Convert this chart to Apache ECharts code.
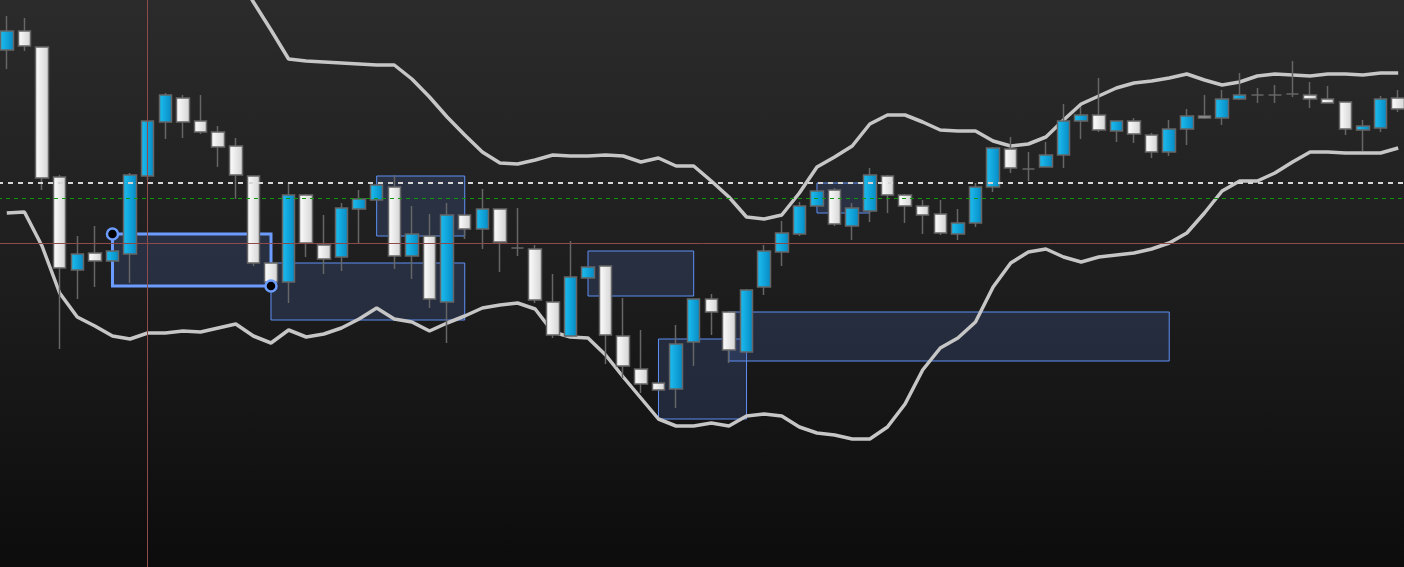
<!DOCTYPE html>
<html>
<head>
<meta charset="utf-8">
<style>
	html, body { margin: 0; padding: 0; overflow: hidden; width: 1404px; height: 567px; background: #0c0c0c; }
	#wrap {
		position: relative;
		width: 1404px;
		height: 567px;
		overflow: hidden;
		background: linear-gradient(to bottom, #2b2b2b 0%, #1d1d1d 50%, #0c0c0c 100%);
	}
	/* candle slots run a little past both edges */
	#chart {
		position: absolute;
		left: -2px;
		top: 0;
		width: 1409px;
		height: 567px;
	}
</style>
<script src="https://cdn.jsdelivr.net/npm/echarts@6/dist/echarts.min.js"></script>
</head>
<body>
<div id="wrap"><div id="chart"></div></div>
<script>
// candles: [open, close, low, high]
const candles = [
	[51.7, 53.6, 49.8, 55.1], [53.6, 52.1, 51.6, 54.9], [52.0, 38.9, 37.7, 52.0], [39.0, 29.9, 21.8, 39.2],
	[29.7, 31.3, 26.8, 33.1], [31.4, 30.6, 28.0, 34.1], [30.6, 31.6, 30.6, 31.6], [31.3, 39.2, 28.4, 39.4],
	[39.1, 44.6, 38.7, 44.6], [44.5, 47.2, 42.8, 47.4], [46.9, 44.5, 42.9, 47.2], [44.6, 43.5, 43.3, 47.2],
	[43.5, 42.0, 40.0, 44.1], [42.1, 39.2, 36.8, 42.9], [39.1, 30.4, 30.1, 39.1], [30.4, 28.5, 28.5, 30.4],
	[28.5, 37.2, 26.4, 38.4], [37.2, 32.4, 31.0, 37.3], [32.2, 30.8, 29.3, 35.2], [31.0, 35.9, 29.6, 36.4],
	[35.8, 36.8, 32.4, 37.7], [36.7, 38.2, 36.7, 38.2], [38.0, 31.1, 29.8, 39.2], [31.1, 33.3, 28.8, 36.1],
	[33.1, 26.8, 25.9, 35.3], [26.5, 35.2, 22.4, 36.4], [35.2, 33.8, 32.8, 35.2], [33.8, 35.8, 31.8, 37.8],
	[35.8, 32.5, 29.5, 35.8], [31.9, 31.9, 31.1, 35.9], [31.8, 26.7, 26.4, 32.2], [26.5, 23.2, 22.9, 29.3],
	[23.1, 29.0, 23.1, 32.6], [28.9, 30.0, 28.9, 30.0], [30.1, 23.2, 20.3, 30.1], [23.1, 20.1, 18.9, 26.9],
	[19.8, 18.3, 17.4, 23.7], [18.4, 17.7, 17.7, 18.4], [17.8, 22.3, 15.9, 24.2], [22.5, 26.8, 20.1, 26.8],
	[26.8, 25.5, 23.2, 27.3], [25.5, 21.7, 20.4, 25.6], [21.5, 27.7, 21.5, 27.8], [28.0, 31.6, 27.2, 32.2],
	[31.5, 33.4, 30.1, 34.6], [33.3, 36.1, 33.1, 36.5], [36.1, 37.6, 36.1, 37.6], [37.7, 34.3, 34.1, 37.9],
	[34.1, 35.9, 32.7, 36.4], [35.6, 39.2, 34.5, 39.9], [39.1, 37.2, 35.4, 39.2], [37.2, 36.1, 34.4, 37.3],
	[36.1, 35.2, 33.3, 36.7], [35.3, 33.4, 33.2, 36.7], [33.3, 34.4, 32.7, 35.8], [34.4, 38.0, 34.0, 38.4],
	[38.0, 41.9, 37.5, 42.0], [41.8, 39.9, 39.4, 43.0], [39.8, 39.8, 38.6, 41.5], [40.0, 41.2, 40.0, 42.5],
	[41.2, 44.6, 39.9, 46.3], [44.6, 45.2, 42.8, 46.0], [45.2, 43.7, 43.5, 48.9], [43.6, 44.6, 42.5, 44.6],
	[44.6, 43.3, 42.4, 44.9], [43.2, 41.5, 40.9, 43.4], [41.5, 43.8, 41.1, 44.7], [43.8, 45.1, 42.2, 45.8],
	[45.1, 44.9, 44.8, 47.2], [44.9, 46.8, 44.2, 47.7], [46.8, 47.2, 46.7, 49.4], [47.2, 47.2, 46.4, 47.9],
	[47.2, 47.2, 46.4, 48.2], [47.3, 47.3, 47.0, 50.6], [47.2, 46.8, 45.9, 48.5], [46.8, 46.4, 46.4, 48.1],
	[46.5, 43.8, 43.2, 46.5], [43.7, 44.1, 41.6, 44.7], [43.9, 46.8, 43.5, 47.1], [46.9, 45.8, 45.5, 47.7]
]

// bollinger bands
const upperBand = [
	58.7, 59.2, 59.7, 60.2, 60.5, 60.7, 60.9, 60.9, 61.2, 61.5, 61.7, 61.7, 61.2, 59.5, 56.5, 53.7,
	50.8, 50.6, 50.5, 50.4, 50.3, 50.2, 50.2, 48.8, 47.0, 45.0, 43.2, 41.5, 40.4, 40.3, 40.7, 41.2,
	41.1, 41.1, 41.2, 41.1, 40.5, 40.9, 40.1, 40.1, 38.6, 37.0, 35.0, 34.8, 35.2, 37.4, 40.0, 41.0,
	42.1, 44.3, 45.2, 45.2, 44.5, 43.7, 43.6, 43.6, 42.6, 42.1, 42.3, 43.0, 44.7, 46.3, 47.1, 47.9,
	48.4, 48.6, 48.9, 49.3, 48.7, 48.2, 48.5, 49.1, 49.3, 49.2, 49.1, 49.3, 49.3, 49.2, 49.4, 49.4
]
const lowerBand = [
	35.4, 35.5, 32.1, 27.4, 25.0, 24.1, 23.1, 22.8, 23.4, 23.4, 23.6, 23.5, 23.9, 24.3, 23.1, 22.4,
	23.7, 23.0, 23.3, 23.9, 24.8, 25.9, 24.8, 24.5, 23.6, 24.4, 25.1, 25.9, 26.2, 26.4, 25.8, 23.5,
	23.0, 22.9, 21.2, 19.0, 16.9, 14.8, 14.1, 14.1, 14.4, 14.1, 15.1, 15.3, 15.1, 14.0, 13.4, 13.2,
	12.8, 12.8, 14.0, 16.3, 19.7, 21.9, 22.9, 24.5, 28.0, 30.4, 31.5, 31.8, 31.0, 30.5, 31.0, 31.2,
	31.4, 31.8, 32.4, 33.4, 35.4, 37.6, 38.6, 38.6, 39.4, 40.5, 41.5, 41.5, 41.4, 41.4, 41.4, 41.9
]

// zones: [start candle, end candle, top price, bottom price]
const zones = [
	[6, 15, 33.3, 28.1],
	[15, 26, 30.4, 24.7],
	[21, 26, 39.1, 33.1],
	[33, 39, 31.6, 27.1],
	[37, 42, 22.8, 14.8],
	[41, 66, 25.5, 20.6],
	[46, 49, 38.4, 35.4]
]
const selectedZone = 0

// price levels: white dashed, green dashed
const levelWhite = 38.4
const levelGreen = 36.9
// crosshair: candle index, price
const crosshair = [8, 32.4]

const categories = candles.map((c, i) => String(i + 1))

const chartInstance = echarts.init(document.getElementById('chart'))

function initChart() {
	const sel = zones[selectedZone]
	const option = {
		animation: false,
		backgroundColor: 'transparent',
		grid: { left: 0, right: 0, top: 0, bottom: 0 },
		xAxis: {
			type: 'category',
			data: categories,
			boundaryGap: true,
			show: false
		},
		yAxis: {
			type: 'value',
			min: 0,
			max: 56.7,
			show: false,
			splitLine: { show: false }
		},
		series: [
			// crosshair (behind everything)
			{
				type: 'line',
				data: [],
				z: 1,
				silent: true,
				markLine: {
					symbol: 'none',
					silent: true,
					label: { show: false },
					lineStyle: { color: '#8f4a4a', width: 1, type: 'solid' },
					data: [{ xAxis: categories[crosshair[0]] }, { yAxis: crosshair[1] }]
				}
			},
			// zones
			{
				type: 'custom',
				z: 1,
				silent: true,
				clip: false,
				data: zones.map((d, i) => d.concat(i === selectedZone ? 1 : 0)),
				encode: { x: [0, 1], y: [2, 3] },
				renderItem: function (params, api) {
					const p0 = api.coord([api.value(0), api.value(2)])
					const p1 = api.coord([api.value(1), api.value(3)])
					const isSel = api.value(4) === 1
					return {
						type: 'rect',
						shape: { x: p0[0], y: p0[1], width: p1[0] - p0[0], height: p1[1] - p0[1] },
						style: {
							fill: 'rgba(70,100,170,0.25)',
							stroke: isSel ? '#6c9cff' : '#5f90f5',
							lineWidth: isSel ? 3 : 1
						}
					}
				}
			},
			// bands
			{
				type: 'line',
				data: upperBand,
				z: 2,
				symbol: 'none',
				silent: true,
				lineStyle: { color: '#c6c6c6', width: 3.5 }
			},
			{
				type: 'line',
				data: lowerBand,
				z: 2,
				symbol: 'none',
				silent: true,
				lineStyle: { color: '#c6c6c6', width: 3.5 }
			},
			// candles
			{
				type: 'candlestick',
				data: candles,
				z: 3,
				barWidth: 13,
				itemStyle: {
					color: new echarts.graphic.LinearGradient(0, 0, 1, 0, [
						{ offset: 0, color: '#1ec0f2' },
						{ offset: 1, color: '#0588c2' }
					]),
					color0: new echarts.graphic.LinearGradient(0, 0, 1, 0, [
						{ offset: 0, color: '#ffffff' },
						{ offset: 1, color: '#d2d2d2' }
					]),
					borderColor: '#666666',
					borderColor0: '#666666',
					borderColorDoji: '#666666',
					borderWidth: 1.5
				}
			},
			// price levels on top
			{
				type: 'line',
				data: [],
				z: 5,
				silent: true,
				markLine: {
					symbol: 'none',
					silent: true,
					label: { show: false },
					data: [
						{ yAxis: levelWhite, lineStyle: { color: '#d6d6d6', width: 2, type: [5, 5] } },
						{ yAxis: levelGreen, lineStyle: { color: '#0a9a0a', width: 1.2, type: [4, 4] } }
					]
				}
			},
			// handles of selected zone
			{
				type: 'scatter',
				z: 6,
				silent: true,
				symbol: 'circle',
				symbolSize: 11,
				itemStyle: { color: '#000000', borderColor: '#6c9cff', borderWidth: 2.5, opacity: 1 },
				data: [[sel[0], sel[2]], [sel[1], sel[3]]]
			}
		]
	}
	chartInstance.setOption(option)
}

initChart()
</script>
</body>
</html>
